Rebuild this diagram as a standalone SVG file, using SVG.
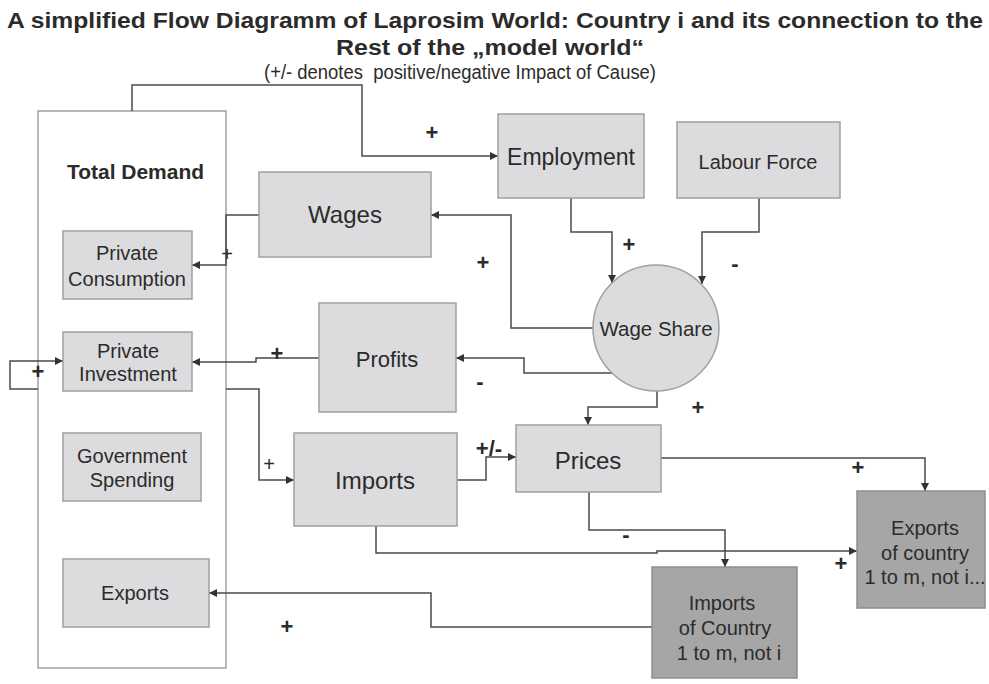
<svg xmlns="http://www.w3.org/2000/svg" width="989" height="684" viewBox="0 0 989 684">
<style>
text{font-family:"Liberation Sans",Arial,sans-serif;fill:#2b2b2b}
.t{font-weight:bold;font-size:22px}
.st{font-size:20px;white-space:pre}
.n{fill:#dcdcde;stroke:#a0a0a0;stroke-width:1.5}
.d{fill:#a6a6a6;stroke:#8e8e8e;stroke-width:1.5}
.c{fill:none;stroke:#4a4a4a;stroke-width:1.5;marker-end:url(#a)}
.lb{font-size:20px;text-anchor:middle}
.pm{font-weight:bold;font-size:22px;text-anchor:middle}
.pt{font-size:20px;text-anchor:middle}
</style>
<defs>
<marker id="a" viewBox="0 0 10 10" refX="10" refY="5" markerWidth="9" markerHeight="8" markerUnits="userSpaceOnUse" orient="auto">
<path d="M0,0L10,5L0,10z" fill="#333"/>
</marker>
</defs>
<rect width="989" height="684" fill="#fff"/>
<g id="title">
<text class="t" x="7" y="28" textLength="976" lengthAdjust="spacingAndGlyphs">A simplified Flow Diagramm of Laprosim World: Country i and its connection to the</text>
<text class="t" x="336" y="55" textLength="308" lengthAdjust="spacingAndGlyphs">Rest of the „model world“</text>
<text class="st" x="264" y="79" textLength="392" lengthAdjust="spacingAndGlyphs">(+/- denotes  positive/negative Impact of Cause)</text>
</g>
<g id="total-demand">
<rect x="38" y="111" width="188" height="557" fill="#fff" stroke="#a0a0a0" stroke-width="1.5"/>
<text x="135.5" y="179" style="font-weight:bold;font-size:20px" text-anchor="middle" textLength="137" lengthAdjust="spacingAndGlyphs">Total Demand</text>
</g>
<g id="connectors">
<path class="c" d="M132,111V85H362V156H498"/>
<path class="c" d="M571,198V232H612V283"/>
<path class="c" d="M759,198V232H702V284"/>
<path class="c" d="M593,328H511V215H431"/>
<path class="c" d="M259,215H226V265H192"/>
<path class="c" d="M612,373H524V358H456"/>
<path class="c" d="M319,358H256V362H192"/>
<path class="c" d="M38,389H10V361H63"/>
<path class="c" d="M226,389H259V480H294"/>
<path class="c" d="M457,480H486V457H516"/>
<path class="c" d="M657,391V407H588V425"/>
<path class="c" d="M661,458H925V491"/>
<path class="c" d="M589,492V530H725V567"/>
<path class="c" d="M376,526V553H657V551H857"/>
<path class="c" d="M652,627H431V593H209"/>
</g>
<g id="private-consumption">
<rect class="n" x="63" y="231" width="129" height="68"/>
<text class="lb" x="127" y="260">Private</text>
<text class="lb" x="127" y="286">Consumption</text>
</g>
<g id="private-investment">
<rect class="n" x="63" y="332" width="129" height="59"/>
<text class="lb" x="128" y="358">Private</text>
<text class="lb" x="128" y="381">Investment</text>
</g>
<g id="government-spending">
<rect class="n" x="63" y="433" width="138" height="68"/>
<text class="lb" x="132" y="463">Government</text>
<text class="lb" x="132" y="487">Spending</text>
</g>
<g id="exports">
<rect class="n" x="63" y="559" width="146" height="68"/>
<text class="lb" x="135" y="600">Exports</text>
</g>
<g id="wages">
<rect class="n" x="259" y="172" width="172" height="85"/>
<text class="lb" x="345" y="223" style="font-size:24px">Wages</text>
</g>
<g id="employment">
<rect class="n" x="498" y="114" width="146" height="84"/>
<text class="lb" x="571" y="165" style="font-size:23px">Employment</text>
</g>
<g id="labour-force">
<rect class="n" x="677" y="122" width="163" height="76"/>
<text class="lb" x="758" y="169">Labour Force</text>
</g>
<g id="wage-share">
<circle class="n" cx="656" cy="328" r="63"/>
<text class="lb" x="656" y="336" style="font-size:20.5px">Wage Share</text>
</g>
<g id="profits">
<rect class="n" x="319" y="303" width="137" height="109"/>
<text class="lb" x="387" y="367" style="font-size:22px">Profits</text>
</g>
<g id="imports">
<rect class="n" x="294" y="433" width="163" height="93"/>
<text class="lb" x="375" y="489" style="font-size:24px">Imports</text>
</g>
<g id="prices">
<rect class="n" x="516" y="425" width="145" height="67"/>
<text class="lb" x="588" y="469" style="font-size:24px">Prices</text>
</g>
<g id="exports-of-country">
<rect class="d" x="857" y="491" width="128" height="117"/>
<text class="lb" x="925" y="535">Exports</text>
<text class="lb" x="925" y="560">of country</text>
<text class="lb" x="925" y="584">1 to m, not i...</text>
</g>
<g id="imports-of-country">
<rect class="d" x="652" y="567" width="145" height="111"/>
<text class="lb" x="722" y="610">Imports</text>
<text class="lb" x="725" y="635">of Country</text>
<text class="lb" x="729" y="660">1 to m, not i</text>
</g>
<g id="signs">
<text class="pm" x="432" y="140">+</text>
<text class="pm" x="483" y="270">+</text>
<text class="pm" x="629" y="252">+</text>
<text class="pm" x="735" y="271">-</text>
<text class="pt" x="227" y="261">+</text>
<text class="pm" x="38" y="379">+</text>
<text class="pm" x="277" y="361">+</text>
<text class="pm" x="480" y="389">-</text>
<text class="pt" x="269" y="471">+</text>
<text class="pm" x="489" y="456">+/-</text>
<text class="pm" x="698" y="415">+</text>
<text class="pm" x="858" y="475">+</text>
<text class="pm" x="626" y="542">-</text>
<text class="pm" x="841" y="571">+</text>
<text class="pm" x="287" y="634">+</text>
</g>
</svg>
